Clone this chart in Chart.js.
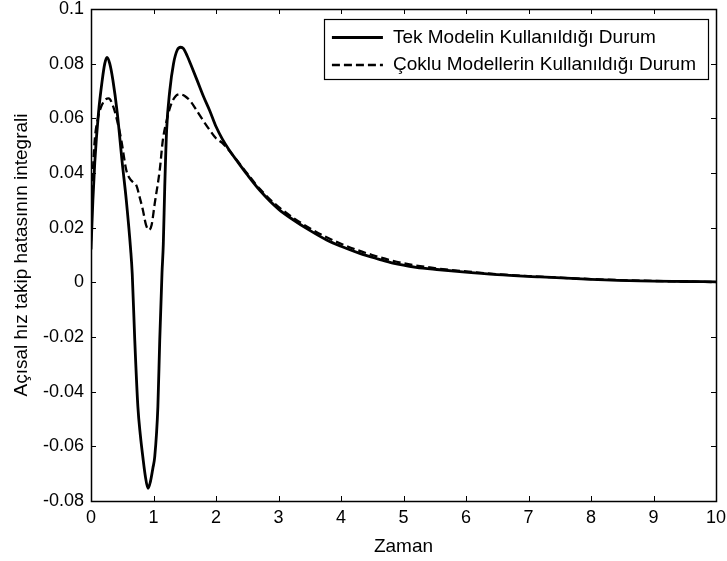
<!DOCTYPE html>
<html>
<head>
<meta charset="utf-8">
<script src="https://cdn.jsdelivr.net/npm/chart.js@4/dist/chart.umd.min.js"></script>
<style>
  html, body { margin: 0; padding: 0; background: #fff; }
  #wrap { width: 727px; height: 561px; }
</style>
</head>
<body>
<div id="wrap"><canvas id="c" width="727" height="561"></canvas></div>
<script>
// Single-model case: time and integral of angular-velocity tracking error
const timeSingle = [0, 0.03, 0.06, 0.12, 0.18, 0.22, 0.256, 0.3, 0.35, 0.42, 0.5, 0.565, 0.635, 0.66, 0.7, 0.75, 0.79, 0.83, 0.87, 0.912, 0.95, 0.99, 1.02, 1.07, 1.1, 1.136, 1.157, 1.18, 1.21, 1.26, 1.32, 1.38, 1.435, 1.48, 1.54, 1.6, 1.7, 1.8, 1.9, 2.0, 2.1, 2.2, 2.35, 2.5, 2.7, 3.0, 3.24, 3.5, 3.77, 4.0, 4.3, 4.6, 4.83, 5.2, 5.58, 5.9, 6.5, 7.18, 8.0, 8.78, 9.5, 10];
const errSingle  = [0.012, 0.03, 0.0437, 0.062, 0.074, 0.08, 0.0823, 0.08, 0.074, 0.062, 0.0437, 0.03, 0.0118, 0.003, -0.021, -0.0455, -0.056, -0.064, -0.071, -0.0754, -0.073, -0.068, -0.0638, -0.0455, -0.021, 0.0034, 0.014, 0.035, 0.0557, 0.07, 0.08, 0.085, 0.086, 0.0855, 0.0828, 0.0795, 0.0738, 0.068, 0.0628, 0.057, 0.0525, 0.0488, 0.0440, 0.0394, 0.0337, 0.0268, 0.0228, 0.019, 0.0155, 0.0132, 0.0106, 0.0085, 0.007, 0.0055, 0.0046, 0.0039, 0.0028, 0.002, 0.0011, 0.0005, 0.0003, 0.0002];

// Multiple-model case
const timeMulti = [0, 0.03, 0.06, 0.12, 0.2, 0.283, 0.36, 0.42, 0.485, 0.565, 0.62, 0.68, 0.725, 0.78, 0.83, 0.88, 0.928, 0.97, 1.02, 1.1, 1.15, 1.22, 1.28, 1.35, 1.42, 1.5, 1.6, 1.7, 1.8, 1.9, 2.0, 2.1, 2.2, 2.35, 2.5, 2.7, 3.0, 3.5, 4.0, 4.5, 5.0, 5.5, 6.0, 6.5, 7.0, 8.0, 9.0, 10];
const errMulti  = [0.015, 0.04, 0.052, 0.061, 0.066, 0.0673, 0.064, 0.059, 0.052, 0.041, 0.038, 0.0365, 0.0355, 0.031, 0.0265, 0.021, 0.0192, 0.021, 0.0289, 0.0411, 0.0521, 0.0601, 0.065, 0.068, 0.0688, 0.0682, 0.066, 0.0625, 0.059, 0.0557, 0.0527, 0.051, 0.0485, 0.0442, 0.0398, 0.0342, 0.0276, 0.0198, 0.0141, 0.0100, 0.0070, 0.0052, 0.0040, 0.0030, 0.0023, 0.0012, 0.0005, 0.0001];

const seriesLabels = ['Tek Modelin Kullanıldığı Durum', 'Çoklu Modellerin Kullanıldığı Durum'];

const xTickValues = [0, 1, 2, 3, 4, 5, 6, 7, 8, 9, 10];
const xTickLabels = ['0', '1', '2', '3', '4', '5', '6', '7', '8', '9', '10'];
const yTickValues = [-0.08, -0.06, -0.04, -0.02, 0, 0.02, 0.04, 0.06, 0.08, 0.1];
const yTickLabels = ['-0.08', '-0.06', '-0.04', '-0.02', '0', '0.02', '0.04', '0.06', '0.08', '0.1'];

const xTitle = 'Zaman';
const yTitle = 'Açısal hız takip hatasının integrali';

const FONT = 'Arial, "Liberation Sans", sans-serif';

const toPoints = (xs, ys) => xs.map((x, i) => ({ x: x, y: ys[i] }));

// Boxed axes with inward tick marks on all four sides
const framePlugin = {
  id: 'frame',
  afterDraw(chart) {
    const { ctx, chartArea: a, scales } = chart;
    const tl = 5;
    ctx.save();
    ctx.strokeStyle = '#000';
    ctx.lineWidth = 1;
    ctx.beginPath();
    xTickValues.forEach(v => {
      const px = Math.round(scales.x.getPixelForValue(v)) + 0.5;
      ctx.moveTo(px, a.bottom); ctx.lineTo(px, a.bottom - tl);
      ctx.moveTo(px, a.top); ctx.lineTo(px, a.top + tl);
    });
    yTickValues.forEach(v => {
      const py = Math.round(scales.y.getPixelForValue(v)) + 0.5;
      ctx.moveTo(a.left, py); ctx.lineTo(a.left + tl, py);
      ctx.moveTo(a.right, py); ctx.lineTo(a.right - tl, py);
    });
    ctx.stroke();
    ctx.lineWidth = 1.5;
    ctx.strokeRect(Math.round(a.left) + 0.5, Math.round(a.top) + 0.5,
                   Math.round(a.right - a.left), Math.round(a.bottom - a.top));
    ctx.restore();
  }
};

// Boxed legend in the upper right of the plot area
const boxLegendPlugin = {
  id: 'boxLegend',
  afterDraw(chart) {
    const { ctx, chartArea: a } = chart;
    const ds = chart.data.datasets;
    ctx.save();
    ctx.font = '19px ' + FONT;
    const textW = Math.max(...ds.map(d => ctx.measureText(d.label).width));
    const sample = 51, padL = 8, gap = 10, padR = 12, rowH = 27.5;
    const right = a.right - 8;
    const top = a.top + 10;
    const w = padL + sample + gap + textW + padR;
    const h = 60;
    const left = right - w;
    ctx.fillStyle = '#fff';
    ctx.fillRect(left, top, w, h);
    ctx.strokeStyle = '#000';
    ctx.lineWidth = 1.2;
    ctx.strokeRect(Math.round(left) + 0.5, top + 0.5, Math.round(w), h);
    ds.forEach((d, i) => {
      const cy = top + 18.5 + rowH * i;
      ctx.beginPath();
      ctx.setLineDash(d.borderDash || []);
      ctx.lineWidth = d.borderWidth;
      ctx.strokeStyle = d.borderColor;
      ctx.moveTo(left + padL, cy);
      ctx.lineTo(left + padL + sample, cy);
      ctx.stroke();
      ctx.setLineDash([]);
      ctx.fillStyle = '#000';
      ctx.textBaseline = 'middle';
      ctx.textAlign = 'left';
      ctx.fillText(d.label, left + padL + sample + gap, cy);
    });
    ctx.restore();
  }
};

// Fixed axis box sizes so the plot area sits where the tick labels need it
const fixBox = (w, h) => s => {
  if (w !== null) s.width = w;
  if (h !== null) s.height = h;
  s.paddingTop = 0; s.paddingBottom = 0; s.paddingLeft = 0; s.paddingRight = 0;
};

new Chart(document.getElementById('c'), {
  type: 'line',
  data: {
    datasets: [
      {
        label: seriesLabels[0],
        data: toPoints(timeSingle, errSingle),
        borderColor: '#000',
        borderWidth: 2.8,
        pointRadius: 0,
        fill: false,
        cubicInterpolationMode: 'monotone'
      },
      {
        label: seriesLabels[1],
        data: toPoints(timeMulti, errMulti),
        borderColor: '#000',
        borderWidth: 2.3,
        borderDash: [8, 4],
        pointRadius: 0,
        fill: false,
        cubicInterpolationMode: 'monotone'
      }
    ]
  },
  options: {
    responsive: false,
    animation: false,
    devicePixelRatio: 1,
    layout: { padding: { top: 9, right: 11, left: 0, bottom: 0 } },
    plugins: { legend: { display: false }, tooltip: { enabled: false } },
    scales: {
      x: {
        type: 'linear',
        min: 0, max: 10,
        afterBuildTicks: s => { s.ticks = xTickValues.map(v => ({ value: v })); },
        afterFit: fixBox(null, 60),
        grid: { display: false, drawTicks: false },
        border: { display: false },
        ticks: {
          color: '#000', padding: 6, maxRotation: 0, autoSkip: false,
          font: { family: FONT, size: 18 },
          callback: (v) => xTickLabels[xTickValues.indexOf(v)]
        },
        title: {
          display: true, text: xTitle, color: '#000',
          font: { family: FONT, size: 19 },
          padding: { top: 0, bottom: 3 }
        }
      },
      y: {
        type: 'linear',
        min: -0.08, max: 0.1,
        afterBuildTicks: s => { s.ticks = yTickValues.map(v => ({ value: v })); },
        afterFit: fixBox(91, null),
        grid: { display: false, drawTicks: false },
        border: { display: false },
        ticks: {
          color: '#000', padding: 7, autoSkip: false,
          font: { family: FONT, size: 18 },
          callback: (v) => {
            const i = yTickValues.findIndex(t => Math.abs(t - v) < 1e-9);
            return i >= 0 ? yTickLabels[i] : '';
          }
        },
        title: {
          display: true, text: yTitle, color: '#000',
          font: { family: FONT, size: 19 },
          padding: { top: 10, bottom: 0 }
        }
      }
    }
  },
  plugins: [framePlugin, boxLegendPlugin]
});
</script>
</body>
</html>
